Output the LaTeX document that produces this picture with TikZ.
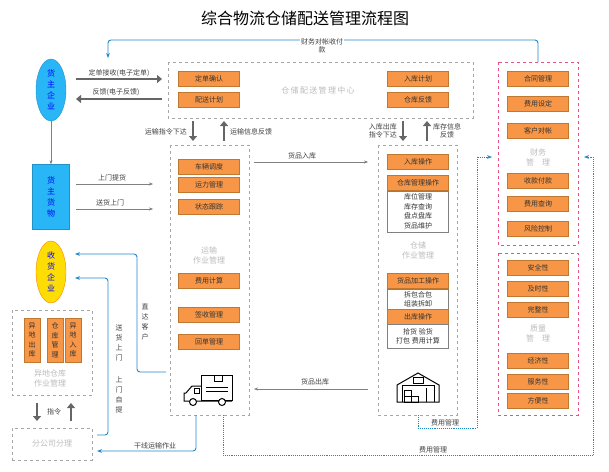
\documentclass[tikz,border=0pt]{standalone}
\usepackage{fontspec}
\setmainfont{Noto Sans CJK SC}
\usetikzlibrary{arrows.meta,shapes.geometric}
\definecolor{org}{HTML}{F79646}
\definecolor{orgd}{HTML}{C0772F}
\definecolor{cy}{HTML}{29B6F6}
\definecolor{bl}{HTML}{1E88C8}
\definecolor{pk}{HTML}{E8508A}
\definecolor{gt}{HTML}{BBBBBB}
\begin{document}
\begin{tikzpicture}[x=1pt,y=-1pt,font=\fontsize{7}{8}\selectfont,
 ob/.style={draw=orgd,fill=org,minimum width=61pt,minimum height=15pt,inner sep=0pt,text=black!80},
 wb/.style={draw=gray,fill=white,minimum width=61pt,inner sep=1pt,align=center,text=black!80},
 ov/.style={draw=orgd,fill=org,minimum width=16pt,minimum height=44pt,inner sep=0pt,align=center,text=black!80,font=\fontsize{7}{9.5}\selectfont},
 dbox/.style={draw=gray!70,dashed},
 pbox/.style={draw=pk,dashed},
 grey/.style={text=gt,align=center,font=\fontsize{8}{10}\selectfont},
 thk/.style={draw=gray!80!black,line width=2.2pt,-{Triangle[length=5pt,width=8pt]}},
 thn/.style={draw=gray,-{Stealth[length=4pt]}},
 bline/.style={draw=bl,line width=0.9pt,-{Stealth[length=5pt]}},
 bdot/.style={draw=bl,line width=0.9pt,densely dotted,-{Stealth[length=5pt]}},
 vt/.style={text=blue,align=center,font=\fontsize{8}{11}\selectfont},
 lab/.style={text=black!75,align=center,inner sep=1pt}]
\useasboundingbox (0,0) rectangle (609,471);
\node (title) at (305,18) {\fontsize{16}{18}\selectfont 综合物流仓储配送管理流程图};
% left column
\node[ellipse,draw=cy!80!black,fill=cy,minimum width=30pt,minimum height=62pt,inner sep=0pt,vt] (hz) at (51,90) {货\\主\\企\\业};
\node[draw=cy!80!black,fill=cy,minimum width=37pt,minimum height=65pt,vt] (hw) at (51,197) {货\\主\\货\\物};
\node[ellipse,draw=orange,fill=yellow!80!orange,minimum width=30pt,minimum height=62pt,inner sep=0pt,vt] (sh) at (51,272) {收\\货\\企\\业};
\draw[thn] (hz) -- (hw);
\draw[dbox] (12,310) rectangle (92,395);
\node[ov] (y1) at (32,340) {异\\地\\出\\库};
\node[ov] (y2) at (55,340) {仓\\库\\管\\理};
\node[ov] (y3) at (73,340) {异\\地\\入\\库};
\node[grey] (yd) at (50,378) {异地仓库\\作业管理};
\node[dbox,minimum width=80pt,minimum height=32pt,text=gt,font=\fontsize{8}{10}\selectfont] (fg) at (52,444) {分公司分理};
\coordinate (a1) at (37,403); \coordinate (a2) at (37,421);
\coordinate (a3) at (71,421); \coordinate (a4) at (71,403);
\draw[thk,line width=1.8pt] (a1) -- (a2); \draw[thk,line width=1.8pt] (a3) -- (a4);
\node[lab] (zl) at (54,412) {指令};
% top center
\draw[dbox] (168,62) rectangle (473,118);
\node[ob] (d1) at (209,79) {定单确认};
\node[ob] (d2) at (209,100) {配送计划};
\node[ob] (r1) at (418,79) {入库计划};
\node[ob] (r2) at (418,100) {仓库反馈};
\node[grey] (zx) at (318,90) {仓\,储\,配\,送\,管\,理\,中\,心};
\coordinate (t1) at (76,79); \coordinate (t2) at (162,79);
\coordinate (t3) at (162,99); \coordinate (t4) at (76,99);
\draw[thk] (t1) -- (t2); \draw[thk] (t3) -- (t4);
\node[lab] (l1) at (119,73) {定单接收(电子定单)};
\node[lab] (l2) at (116,92) {反馈(电子反馈)};
% transport
\draw[dbox] (170,145) rectangle (249,415);
\node[ob] (c1) at (209,167) {车辆调度};
\node[ob] (c2) at (209,185) {运力管理};
\node[ob] (c3) at (209,207) {状态跟踪};
\node[grey] (ys) at (209,255) {运输\\作业管理};
\node[ob] (c4) at (209,281) {费用计算};
\node[ob] (c5) at (209,315) {签收管理};
\node[ob] (c6) at (209,342) {回单管理};
\coordinate (v1) at (193,121); \coordinate (v2) at (193,141);
\coordinate (v3) at (224,141); \coordinate (v4) at (224,121);
\draw[thk] (v1) -- (v2); \draw[thk] (v3) -- (v4);
\node[lab,anchor=east] (l3) at (188,132) {运输指令下达};
\node[lab,anchor=west] (l4) at (229,132) {运输信息反馈};
% truck
\begin{scope}[line width=1pt]
\draw (201,375) rectangle (232,400);
\draw (214,375) rectangle (222,381);
\draw (206,387) -- (228,387); \draw (206,391) -- (228,391);
\draw (201,386) -- (192,386) -- (186,393) -- (184,393) -- (184,401) -- (232,401);
\draw (194,388) rectangle (199,393);
\draw[fill=white] (193,402) circle (3.5); \draw[fill=white] (222,402) circle (3.5);
\end{scope}
% storage
\draw[dbox] (378,145) rectangle (457,415);
\node[ob] (s1) at (418,162) {入库操作};
\node[ob] (s2) at (418,183) {仓库管理操作};
\node[wb,minimum height=41pt,font=\fontsize{7}{9.5}\selectfont] (s3) at (418,211.5) {库位管理\\库存查询\\盘点盘库\\货品维护};
\node[grey] (cc) at (418,250) {仓储\\作业管理};
\node[ob] (s4) at (418,281) {货品加工操作};
\node[wb,minimum height=20pt,font=\fontsize{7}{9}\selectfont] (s5) at (418,299) {拆包合包\\组装拆卸};
\node[ob] (s6) at (418,316.5) {出库操作};
\node[wb,minimum height=24pt,font=\fontsize{7}{9}\selectfont] (s7) at (418,336) {拾货 验货\\打包 费用计算};
\coordinate (w1) at (403,121); \coordinate (w2) at (403,141);
\coordinate (w3) at (427,141); \coordinate (w4) at (427,121);
\draw[thk] (w1) -- (w2); \draw[thk] (w3) -- (w4);
\node[lab,anchor=east] (l5) at (398,131) {入库出库\\指令下达};
\node[lab,anchor=west] (l6) at (432,131) {库存信息\\反馈};
% warehouse
\begin{scope}[line width=1pt]
\draw (397,402) -- (397,385) -- (418,373) -- (439,385) -- (439,402) -- cycle;
\draw (402,402) -- (402,385) -- (434,385) -- (434,402);
\draw (413,377) rectangle (423,383);
\draw (404,390) rectangle (411,396); \draw (404,396) rectangle (411,402);
\draw (411,396) rectangle (418,402);
\draw (426,388) -- (426,402);
\end{scope}
% middle arrows
\coordinate (m1) at (254,162); \coordinate (m2) at (368,162);
\coordinate (m3) at (368,389); \coordinate (m4) at (254,389);
\draw[thn] (m1) -- (m2); \draw[thn] (m3) -- (m4);
\node[lab] (l7) at (302,156) {货品入库};
\node[lab] (l8) at (315,382) {货品出库};
% finance
\draw[pbox] (498,62) rectangle (578,245);
\node[ob] (f1) at (538,79) {合同管理};
\node[ob] (f2) at (538,104) {费用设定};
\node[ob] (f3) at (538,131) {客户对帐};
\node[grey] (cw) at (538,157) {财务\\管\quad 理};
\node[ob] (f4) at (538,181) {收款付款};
\node[ob] (f5) at (538,204) {费用查询};
\node[ob] (f6) at (538,229) {风险控制};
\draw[pbox] (498,253) rectangle (578,415);
\node[ob] (q1) at (538,268) {安全性};
\node[ob] (q2) at (538,289) {及时性};
\node[ob] (q3) at (538,310) {完整性};
\node[grey] (zl2) at (538,333) {质量\\管\quad 理};
\node[ob] (q4) at (538,361) {经济性};
\node[ob] (q5) at (538,382) {服务性};
\node[ob] (q6) at (538,401) {方便性};
% blue lines
\coordinate (p1) at (538,62); \coordinate (p2) at (108,58);
\draw[bline,rounded corners=3pt] (p1) |- (108,40) -- (p2);
\node[fill=white,lab] (cwd) at (322,46) {财务对帐收付\\款};
\coordinate (b1) at (418,415); \coordinate (b2) at (492,157);
\draw[bdot] (b1) -- (418,428) -- (477,428) -- (477,157) -- (b2);
\node[lab] (fy1) at (445,423) {费用管理};
\coordinate (b3) at (223,415); \coordinate (b4) at (584,157);
\draw[bdot] (b3) -- (223,455) -- (593,455) -- (593,157) -- (b4);
\node[lab] (fy2) at (433,450) {费用管理};
\coordinate (k1) at (166,372); \coordinate (k2) at (75,254);
\draw[bline,rounded corners=3pt] (k1) -- (137,372) -- (137,254) -- (k2);
\node[lab,font=\fontsize{7}{10}\selectfont] (zd) at (145,322) {直\\达\\客\\户};
\coordinate (k3) at (97,435); \coordinate (k4) at (75,278);
\draw[bline,rounded corners=3pt] (k3) -- (108,435) -- (108,278) -- (k4);
\node[lab,font=\fontsize{7}{10}\selectfont] (sm) at (119,343) {送\\货\\上\\门};
\node[lab,font=\fontsize{7}{10}\selectfont] (sz) at (119,395) {上\\门\\自\\提};
\coordinate (k5) at (196,415); \coordinate (k6) at (97,451);
\draw[bline,rounded corners=3pt] (k5) -- (196,451) -- (k6);
\node[lab] (gx) at (155,446) {干线运输作业};
% thin
\coordinate (h1) at (76,184); \coordinate (h2) at (153,184);
\coordinate (h3) at (76,209); \coordinate (h4) at (153,209);
\draw[thn] (h1) -- (h2); \draw[thn] (h3) -- (h4);
\node[lab] (st) at (112,178) {上门提货};
\node[lab] (ss) at (110,203) {送货上门};
\end{tikzpicture}
\end{document}
